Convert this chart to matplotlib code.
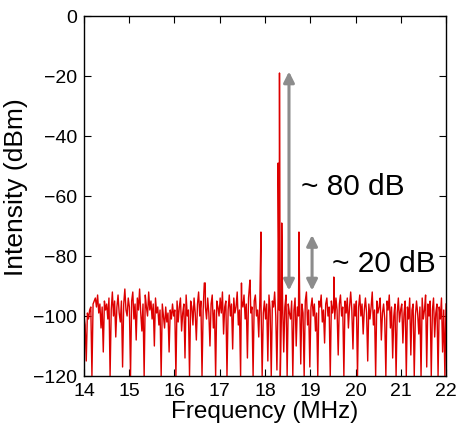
import numpy as np
import matplotlib
matplotlib.use("Agg")
import matplotlib.pyplot as plt

plt.rcParams["font.family"] = ["Liberation Sans", "DejaVu Sans"]

# Noise floor, 20 samples per 0.5 MHz (14 -> 22 MHz).
noise_dbm = [
    -100, -103, -115, -99, -101, -98, -97, -120, -96, -95, -94, -97, -93, -99, -96, -104, -97, -112, -95, -98,
    -96, -101, -94, -120, -98, -92, -100, -95, -107, -97, -93, -99, -102, -95, -117, -96, -91, -98, -100, -94,
    -97, -120, -95, -92, -101, -96, -108, -94, -98, -91, -99, -105, -96, -120, -93, -97, -100, -92, -98, -95,
    -101, -96, -110, -94, -99, -97, -103, -98, -120, -96, -100, -104, -97, -102, -99, -112, -98, -101, -96, -100,
    -98, -120, -95, -102, -97, -94, -105, -99, -96, -114, -93, -100, -98, -120, -95, -97, -103, -94, -99, -108,
    -96, -92, -100, -95, -120, -98, -89, -97, -101, -94, -99, -110, -96, -93, -104, -98, -120, -95, -97, -100,
    -94, -99, -92, -106, -97, -95, -120, -98, -93, -100, -96, -111, -94, -99, -97, -92, -103, -98, -120, -95,
    -97, -93, -101, -96, -114, -94, -89, -99, -97, -120, -95, -93, -100, -98, -107, -94, -96, -120, -99, -95,
    -101, -96, -115, -93, -98, -120, -95, -97, -92, -100, -118, -94, -98, -120, -99, -95, -112, -97, -93, -120,
    -96, -99, -101, -95, -120, -98, -94, -110, -97, -100, -93, -116, -96, -99, -120, -95, -92, -103, -98, -117,
    -97, -94, -100, -96, -105, -99, -120, -95, -97, -93, -102, -98, -109, -96, -94, -100, -97, -120, -95, -99,
    -96, -101, -94, -98, -113, -96, -93, -100, -97, -120, -95, -99, -94, -104, -97, -92, -98, -111, -96, -100,
    -95, -120, -97, -93, -100, -96, -106, -98, -94, -99, -115, -96, -101, -97, -92, -103, -98, -120, -95, -99,
    -97, -94, -108, -99, -96, -101, -120, -95, -98, -93, -104, -97, -114, -100, -96, -120, -99, -94, -102, -98,
    -96, -109, -99, -95, -120, -97, -101, -94, -113, -98, -96, -120, -100, -95, -99, -106, -97, -120, -94, -101,
    -98, -93, -117, -96, -100, -95, -120, -98, -94, -107, -99, -96, -120, -97, -101, -94, -112, -98, -120, -96,
]
noise_mhz = np.linspace(14, 22, len(noise_dbm))

# Spurs and the beat note
peak_mhz = [16.68, 17.48, 17.67, 17.91, 18.29, 18.32, 18.37, 18.75, 19.52]
peak_dbm = [-89, -89, -88, -72, -49, -19, -69, -72, -87]

freq = np.concatenate([noise_mhz, peak_mhz])
level = np.concatenate([noise_dbm, peak_dbm])
order = np.argsort(freq)
freq, level = freq[order], level[order]

fig = plt.figure(figsize=(4.62, 4.36), dpi=100)
ax = fig.add_axes([0.1818, 0.1376, 0.7836, 0.8257])
ax.plot(freq, level, color="#dd0000", linewidth=1.0)

ax.set_xlim(14, 22)
ax.set_ylim(-120, 0)
ax.set_xticks(range(14, 23))
ax.set_yticks(range(-120, 1, 20))
ax.tick_params(direction="in", top=True, right=True, length=5, labelsize=14, pad=5)
for s in ax.spines.values():
    s.set_linewidth(1.0)
ax.set_xlabel("Frequency (MHz)", fontsize=17.5, labelpad=1)
ax.set_ylabel("Intensity (dBm)", fontsize=19)
ax.yaxis.set_label_coords(-0.155, 0.525)

grey = "#8c8c8c"
arrow = dict(arrowstyle="<|-|>", color=grey, lw=2.2, mutation_scale=16,
             shrinkA=0, shrinkB=0)
ax.annotate("", xy=(18.53, -18.5), xytext=(18.53, -91.5), arrowprops=arrow)
ax.annotate("", xy=(19.04, -73), xytext=(19.04, -91.5), arrowprops=arrow)
ax.text(18.8, -57, "~ 80 dB", fontsize=21.5, va="center", ha="left")
ax.text(19.48, -82.5, "~ 20 dB", fontsize=21.5, va="center", ha="left")

fig.savefig("out.png", dpi=100)
